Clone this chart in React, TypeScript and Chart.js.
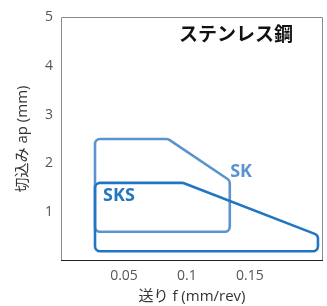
import React, { useEffect, useRef } from "react";
import { Chart, registerables } from "chart.js";

Chart.register(...registerables);

const skX = [0.027, 0.085, 0.134, 0.134, 0.027];
const skY = [2.5, 2.5, 1.65, 0.6, 0.6];
const sksX = [0.027, 0.097, 0.204, 0.204, 0.027];
const sksY = [1.6, 1.6, 0.53, 0.2, 0.2];
const xTicks = [0.05, 0.1, 0.15];
const yTicks = [1, 2, 3, 4, 5];
const labels = [
  { text: "SK", x: 0.143, y: 1.82, color: "#5b93cf" },
  { text: "SKS", x: 0.046, y: 1.33, color: "#2275c2" },
];
const title = "ステンレス鋼";
const xTitle = "送り f (mm/rev)";
const yTitle = "切込み ap (mm)";

const FONT = "'Open Sans', 'Noto Sans CJK JP', sans-serif";
const COLORS = ["#2275c2", "#5b93cf"];

const toPts = (xs: number[], ys: number[]) => xs.map((x, i) => ({ x, y: ys[i] }));

export default function App() {
  const ref = useRef<HTMLCanvasElement | null>(null);
  useEffect(() => {
    const canvas = ref.current!;
    const frame = {
      id: "frame",
      beforeDatasetsDraw(chart: any) {
        const { ctx, chartArea: a } = chart;
        ctx.save();
        ctx.lineWidth = 1;
        ctx.strokeStyle = "#8a8a8a";
        ctx.beginPath();
        ctx.moveTo(a.left + 0.5, a.bottom);
        ctx.lineTo(a.left + 0.5, a.top + 0.5);
        ctx.lineTo(a.right - 0.5, a.top + 0.5);
        ctx.lineTo(a.right - 0.5, a.bottom);
        ctx.stroke();
        ctx.strokeStyle = "#222";
        ctx.beginPath();
        ctx.moveTo(a.left, a.bottom - 0.5);
        ctx.lineTo(a.right, a.bottom - 0.5);
        ctx.stroke();
        ctx.restore();
      },
      afterDatasetsDraw(chart: any) {
        const { ctx, scales } = chart;
        ctx.save();
        for (let i = chart.data.datasets.length - 1; i >= 0; i--) {
          const pts = chart.getDatasetMeta(i).data.map((p: any) => ({ x: p.x, y: p.y }));
          const n = pts.length;
          ctx.beginPath();
          const mid = { x: (pts[0].x + pts[n - 1].x) / 2, y: (pts[0].y + pts[n - 1].y) / 2 };
          ctx.moveTo(mid.x, mid.y);
          for (let k = 0; k < n; k++) {
            const cur = pts[k];
            const nxt = pts[(k + 1) % n];
            ctx.arcTo(cur.x, cur.y, nxt.x, nxt.y, 5);
          }
          ctx.closePath();
          ctx.lineWidth = 2.6;
          ctx.lineJoin = "round";
          ctx.strokeStyle = COLORS[i];
          ctx.stroke();
        }
        ctx.textAlign = "center";
        ctx.textBaseline = "middle";
        ctx.font = `bold 18px ${FONT}`;
        for (const l of labels) {
          ctx.fillStyle = l.color;
          ctx.fillText(l.text, scales.x.getPixelForValue(l.x), scales.y.getPixelForValue(l.y));
        }
        ctx.fillStyle = "#111";
        ctx.font = `bold 19px ${FONT}`;
        ctx.fillText(title, scales.x.getPixelForValue(0.139), scales.y.getPixelForValue(4.61));
        ctx.restore();
      },
    };
    const chart = new Chart(canvas, {
      type: "scatter",
      data: {
        datasets: [
          {
            label: "SKS",
            data: toPts(sksX, sksY),
            showLine: false,
            borderColor: COLORS[0],
            pointRadius: 0,
          },
          {
            label: "SK",
            data: toPts(skX, skY),
            showLine: false,
            borderColor: COLORS[1],
            pointRadius: 0,
          },
        ],
      },
      options: {
        responsive: false,
        animation: false,
        layout: { padding: { top: 17, right: 4, left: 0, bottom: 0 } },
        plugins: { legend: { display: false }, tooltip: { enabled: false } },
        scales: {
          x: {
            type: "linear",
            min: 0,
            max: 0.208,
            grid: { display: false, drawTicks: false },
            border: { display: false },
            afterBuildTicks: (s: any) => {
              s.ticks = xTicks.map((v) => ({ value: v }));
            },
            afterFit: (s: any) => {
              s.height = 45;
            },
            ticks: {
              padding: 7,
              color: "#555",
              font: { family: FONT, size: 14 },
              callback: (v: any) => String(v),
              maxRotation: 0,
            },
            title: {
              display: true,
              text: xTitle,
              color: "#333",
              font: { family: FONT, size: 15 },
              padding: { top: 0, bottom: 0 },
            },
          },
          y: {
            type: "linear",
            min: 0,
            max: 5,
            grid: { display: false, drawTicks: false },
            border: { display: false },
            afterBuildTicks: (s: any) => {
              s.ticks = yTicks.map((v) => ({ value: v }));
            },
            afterFit: (s: any) => {
              s.width = 61;
            },
            ticks: {
              padding: 8,
              color: "#555",
              font: { family: FONT, size: 14 },
            },
            title: {
              display: true,
              text: yTitle,
              color: "#333",
              font: { family: FONT, size: 15 },
              padding: { top: 14, bottom: 0 },
            },
          },
        },
      },
      plugins: [frame],
    } as any);
    return () => chart.destroy();
  }, []);
  return (
    <div style={{ position: "fixed", left: 0, top: 0, width: 327, height: 306, background: "#fff" }}>
      <canvas ref={ref} width={327} height={306} style={{ display: "block" }} />
    </div>
  );
}
